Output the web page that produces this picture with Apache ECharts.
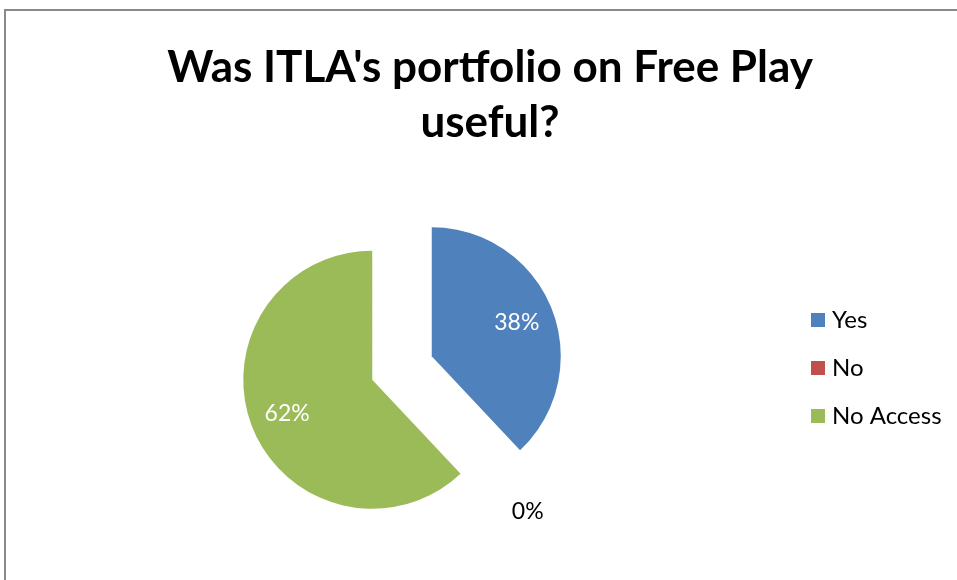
<!DOCTYPE html>
<html>
<head>
<meta charset="utf-8">
<script src="https://cdn.jsdelivr.net/npm/echarts@6/dist/echarts.min.js"></script>
<style>
  html, body { margin: 0; padding: 0; background: #fff; overflow: hidden; }
  #main { width: 980px; height: 580px; }
</style>
</head>
<body>
<div id="main"></div>
<script>
var categories = ['Yes', 'No', 'No Access'];
var values = [38, 0, 62];
var colors = ['#4F81BD', '#C0504D', '#9BBB59'];
var exploded = [true, false, true];

var myChart = echarts.init(document.getElementById('main'));

var pieData = categories.map(function (name, i) {
  return { name: name, value: values[i], selected: exploded[i], itemStyle: { color: colors[i] } };
});
// same slices, transparent, only used to place the labels further out
var labelData = categories.map(function (name, i) {
  var item = { name: name, value: values[i], selected: exploded[i], itemStyle: { color: 'rgba(0,0,0,0)' } };
  if (values[i] === 0) {
    item.label = {
      position: 'outside',
      color: '#000',
      distanceToLabelLine: -25
    };
    item.labelLine = { show: false, length: 68, length2: 0 };
  }
  return item;
});

myChart.setOption({
  animation: false,
  title: {
    text: "Was ITLA's portfolio on Free Play\nuseful?",
    left: 'center',
    top: 40,
    padding: 0,
    textStyle: {
      fontFamily: 'Lato',
      fontWeight: 'bold',
      fontSize: 44,
      lineHeight: 55,
      color: '#000'
    }
  },
  legend: {
    orient: 'vertical',
    left: 811,
    top: 308,
    padding: 0,
    icon: 'rect',
    itemWidth: 14,
    itemHeight: 14,
    itemGap: 24,
    selectedMode: false,
    data: categories,
    textStyle: { fontFamily: 'Lato', fontSize: 24, color: '#000', padding: [0, 0, 0, 2] }
  },
  graphic: [{
    type: 'rect',
    shape: { x: 5, y: 10, width: 968, height: 600 },
    style: { fill: 'none', stroke: '#898989', lineWidth: 2 },
    silent: true
  }],
  series: [{
    type: 'pie',
    center: [402, 368],
    radius: 129,
    startAngle: 90,
    selectedMode: 'multiple',
    selectedOffset: 32,
    avoidLabelOverlap: false,
    silent: true,
    label: { show: false },
    labelLine: { show: false },
    data: pieData
  }, {
    type: 'pie',
    center: [402, 368],
    radius: [48, 129],
    startAngle: 90,
    selectedMode: 'multiple',
    selectedOffset: 32,
    avoidLabelOverlap: false,
    silent: true,
    label: {
      show: true,
      position: 'inside',
      formatter: '{d}%',
      fontFamily: 'Lato',
      fontSize: 23,
      color: '#fff'
    },
    labelLine: { show: false },
    data: labelData
  }]
});
</script>
</body>
</html>
